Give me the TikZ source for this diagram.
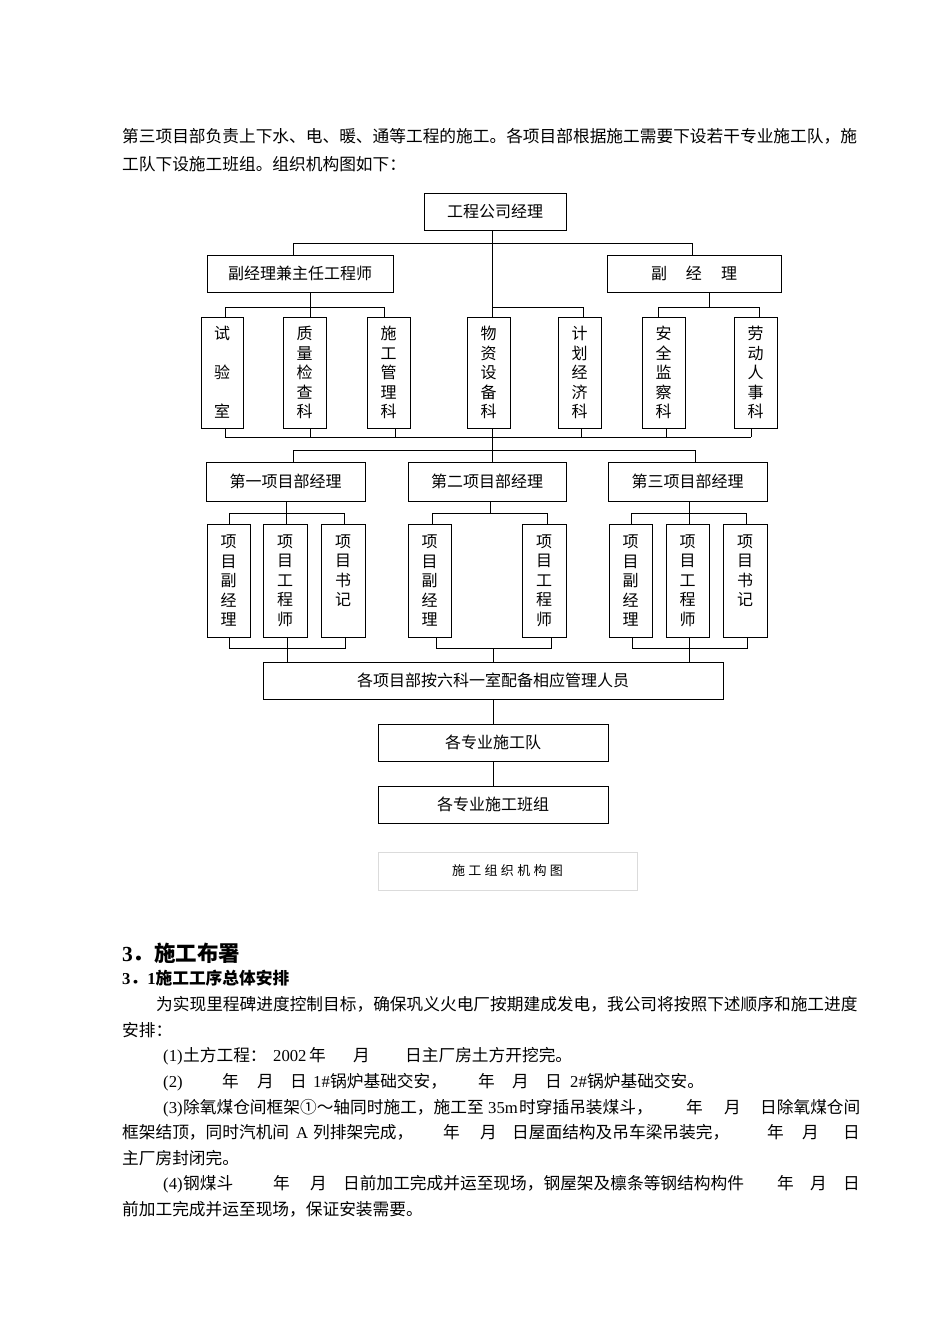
\documentclass[tikz,border=0pt]{standalone}
\usepackage{fontspec}
\setmainfont{Noto Sans CJK SC}
\newfontfamily\latf{Liberation Serif}
\newcommand\lt[1]{{\latf #1}}
\newcommand\sg[2]{\makebox[0pt][l]{\hspace*{#1pt}#2}}
\newcommand\bodyf{\fontsize{16.7}{20}\selectfont}
\newcommand\dfont{\fontsize{16}{19.5}\selectfont}
\tikzset{
 bx/.style={draw, line width=1pt, inner sep=0pt, font=\dfont, align=center},
 ln/.style={line width=1pt},
 tl/.style={anchor=base west, inner sep=0pt, font=\bodyf},
}
\newcommand\bxn[6]{\node[bx, minimum width={(#4-#2)*1pt}, minimum height={(#5-#3)*1pt}] (#1) at ({(#2+#4)/2},{(#3+#5)/2}) {#6};}
\newcommand\tline[3]{\node[tl] (#1) at (0,{#2+6.3}) {#3};}
\begin{document}
\begin{tikzpicture}[x=1pt,y=-1pt]
\fill[white] (0,0) rectangle (950,1344);
\useasboundingbox (0,0) rectangle (950,1344);

% intro text
\tline{p1}{136}{\sg{122}{第三项目部负责上下水、电、暖、通等工程的施工。各项目部根据施工需要下设若干专业施工队，施}\hspace*{858pt}}
\tline{p2}{164}{\sg{122}{工队下设施工班组。组织机构图如下：}\hspace*{406pt}}

% boxes
\bxn{top}{424}{193}{566}{230}{工程公司经理}
\bxn{A}{207}{255}{393}{292}{副经理兼主任工程师}
\bxn{B}{607}{255}{781}{292}{副\hspace{19pt}经\hspace{19pt}理}

\bxn{sy}{201}{317}{243}{428}{试\\[19.5pt]验\\[19.5pt]室}
\bxn{zl}{283}{317}{326}{428}{质\\量\\检\\查\\科}
\bxn{sgk}{367}{317}{410}{428}{施\\工\\管\\理\\科}
\bxn{wz}{467}{317}{510}{428}{物\\资\\设\\备\\科}
\bxn{jh}{558}{317}{601}{428}{计\\划\\经\\济\\科}
\bxn{aq}{642}{317}{685}{428}{安\\全\\监\\察\\科}
\bxn{ld}{734}{317}{777}{428}{劳\\动\\人\\事\\科}

\bxn{P1}{206}{462}{365}{501}{第一项目部经理}
\bxn{P2}{408}{462}{566}{501}{第二项目部经理}
\bxn{P3}{608}{462}{767}{501}{第三项目部经理}

\bxn{g11}{207}{524}{250}{637}{项\\目\\副\\经\\理}
\bxn{g12}{263}{524}{307}{637}{项\\目\\工\\程\\师}
\bxn{g13}{321}{524}{365}{637}{项\\目\\书\\记\\\phantom{记}}
\bxn{g21}{408}{524}{451}{637}{项\\目\\副\\经\\理}
\bxn{g22}{522}{524}{566}{637}{项\\目\\工\\程\\师}
\bxn{g31}{609}{524}{652}{637}{项\\目\\副\\经\\理}
\bxn{g32}{666}{524}{709}{637}{项\\目\\工\\程\\师}
\bxn{g33}{723}{524}{767}{637}{项\\目\\书\\记\\\phantom{记}}

\bxn{big}{263}{662}{723}{699}{各项目部按六科一室配备相应管理人员}
\bxn{dui}{378}{724}{608}{761}{各专业施工队}
\bxn{bz}{378}{786}{608}{823}{各专业施工班组}

\node[draw=black!14, line width=0.8pt, minimum width=259pt, minimum height=38pt, inner sep=0pt,
  font=\fontsize{13}{15}\selectfont] (cap) at (507.5,871)
  {施\hspace{3.3pt}工\hspace{3.3pt}组\hspace{3.3pt}织\hspace{3.3pt}机\hspace{3.3pt}构\hspace{3.3pt}图};

% connectors level 1-2
\coordinate (h1L) at (293,243);
\coordinate (h1R) at (692,243);
\coordinate (h1c) at (492,243);
\draw[ln] (h1L) -- (h1R);
\draw[ln] (h1L) -- (A.north -| h1L);
\draw[ln] (h1R) -- (B.north -| h1R);
\draw[ln] (top.south -| h1c) -- (wz.north -| h1c);

% level 2-3
\coordinate (h2a) at (225,307);
\coordinate (h2m) at (310,307);
\coordinate (h2b) at (384,307);
\draw[ln] (h2a) -- (h2b);
\draw[ln] (A.south -| h2m) -- (zl.north -| h2m);
\draw[ln] (h2a) -- (sy.north -| h2a);
\draw[ln] (h2b) -- (sgk.north -| h2b);
\coordinate (h2w) at (492,307);
\coordinate (h2c) at (583,307);
\draw[ln] (h2w) -- (h2c) -- (jh.north -| h2c);
\coordinate (h2d) at (658,307);
\coordinate (h2f) at (709,307);
\coordinate (h2e) at (759,307);
\draw[ln] (h2d) -- (h2e);
\draw[ln] (B.south -| h2f) -- (h2f);
\draw[ln] (h2d) -- (aq.north -| h2d);
\draw[ln] (h2e) -- (ld.north -| h2e);

% bottom bar of level 3
\coordinate (b1) at (225,437);
\coordinate (b2) at (310,437);
\coordinate (b3) at (395,437);
\coordinate (b4) at (492,437);
\coordinate (b5) at (581,437);
\coordinate (b6) at (666,437);
\coordinate (b7) at (751,437);
\draw[ln] (b1) -- (b7);
\draw[ln] (sy.south -| b1) -- (b1);
\draw[ln] (zl.south -| b2) -- (b2);
\draw[ln] (sgk.south -| b3) -- (b3);
\draw[ln] (jh.south -| b5) -- (b5);
\draw[ln] (aq.south -| b6) -- (b6);
\draw[ln] (ld.south -| b7) -- (b7);

% level 4
\coordinate (d1) at (293,450);
\coordinate (dm) at (492,450);
\coordinate (d2) at (695,450);
\draw[ln] (d1) -- (d2);
\draw[ln] (wz.south -| dm) -- (P2.north -| dm);
\draw[ln] (d1) -- (P1.north -| d1);
\draw[ln] (d2) -- (P3.north -| d2);

% level 5 group 1
\coordinate (e1a) at (229,513);
\coordinate (e1m) at (286,513);
\coordinate (e1b) at (344.5,513);
\draw[ln] (P1.south -| e1m) -- (g12.north -| e1m);
\draw[ln] (e1a) -- (e1b);
\draw[ln] (e1a) -- (g11.north -| e1a);
\draw[ln] (e1b) -- (g13.north -| e1b);
% group 2
\coordinate (e2a) at (432.5,513);
\coordinate (e2m) at (490,513);
\coordinate (e2b) at (547,513);
\draw[ln] (P2.south -| e2m) -- (e2m);
\draw[ln] (e2a) -- (e2b);
\draw[ln] (e2a) -- (g21.north -| e2a);
\draw[ln] (e2b) -- (g22.north -| e2b);
% group 3
\coordinate (e3a) at (631.5,513);
\coordinate (e3m) at (689,513);
\coordinate (e3b) at (746,513);
\draw[ln] (P3.south -| e3m) -- (g32.north -| e3m);
\draw[ln] (e3a) -- (e3b);
\draw[ln] (e3a) -- (g31.north -| e3a);
\draw[ln] (e3b) -- (g33.north -| e3b);

% bottom buses of level 5
\coordinate (f1a) at (229.5,648);
\coordinate (f1m) at (287,648);
\coordinate (f1b) at (345,648);
\draw[ln] (g11.south -| f1a) -- (f1a) -- (f1b) -- (g13.south -| f1b);
\draw[ln] (g12.south -| f1m) -- (big.north -| f1m);
\coordinate (f2a) at (436,648);
\coordinate (f2m) at (493,648);
\coordinate (f2b) at (551,648);
\draw[ln] (g21.south -| f2a) -- (f2a) -- (f2b) -- (g22.south -| f2b);
\draw[ln] (f2m) -- (big.north -| f2m);
\coordinate (f3a) at (632.5,648);
\coordinate (f3m) at (689,648);
\coordinate (f3b) at (747,648);
\draw[ln] (g31.south -| f3a) -- (f3a) -- (f3b) -- (g33.south -| f3b);
\draw[ln] (g32.south -| f3m) -- (big.north -| f3m);

\draw[ln] (big.south) -- (dui.north);
\draw[ln] (dui.south) -- (bz.north);

% section text
\node[anchor=base west, inner sep=0pt, font=\fontsize{21.5}{24}\selectfont\bfseries] (h3) at (122,961.2) {\lt{3}．施工布署};
\node[anchor=base west, inner sep=0pt, font=\fontsize{16.7}{20}\selectfont\bfseries] (h31) at (122,984.3) {\lt{3}．\lt{1}施工工序总体安排};

\tline{q1}{1004}{\sg{156}{为实现里程碑进度控制目标，确保巩义火电厂按期建成发电，我公司将按照下述顺序和施工进度}\hspace*{858pt}}
\tline{q2}{1030}{\sg{122}{安排：}\hspace*{172pt}}
\tline{q3}{1055}{\sg{163}{\lt{(1)}}\sg{183}{土方工程：}\sg{273}{\lt{2002}}\sg{309}{年}\sg{353}{月}\sg{405}{日主厂房土方开挖完。}\hspace*{572pt}}
\tline{q4}{1081}{\sg{163}{\lt{(2)}}\sg{222}{年}\sg{257}{月}\sg{290}{日}\sg{313}{\lt{1\#}}\sg{330}{锅炉基础交安，}\sg{478}{年}\sg{512}{月}\sg{545}{日}\sg{570}{\lt{2\#}}\sg{587}{锅炉基础交安。}\hspace*{704pt}}
\tline{q5}{1107}{\sg{163}{\lt{(3)}}\sg{183}{除氧煤仓间框架①～轴同时施工，施工至}\sg{488}{\lt{35m}}\sg{519}{时穿插吊装煤斗，}\sg{686}{年}\sg{724}{月}\sg{760}{日除氧煤仓间}\hspace*{860pt}}
\tline{q6}{1132}{\sg{122}{框架结顶，同时汽机间}\sg{296}{\lt{A}}\sg{313}{列排架完成，}\sg{443}{年}\sg{480}{月}\sg{512}{日屋面结构及吊车梁吊装完，}\sg{767}{年}\sg{802}{月}\sg{843}{日}\hspace*{860pt}}
\tline{q7}{1158}{\sg{122}{主厂房封闭完。}\hspace*{239pt}}
\tline{q8}{1183}{\sg{163}{\lt{(4)}}\sg{183}{钢煤斗}\sg{273}{年}\sg{310}{月}\sg{343}{日前加工完成并运至现场，钢屋架及檩条等钢结构构件}\sg{777}{年}\sg{810}{月}\sg{843}{日}\hspace*{860pt}}
\tline{q9}{1209}{\sg{122}{前加工完成并运至现场，保证安装需要。}\hspace*{423pt}}
\end{tikzpicture}
\end{document}
